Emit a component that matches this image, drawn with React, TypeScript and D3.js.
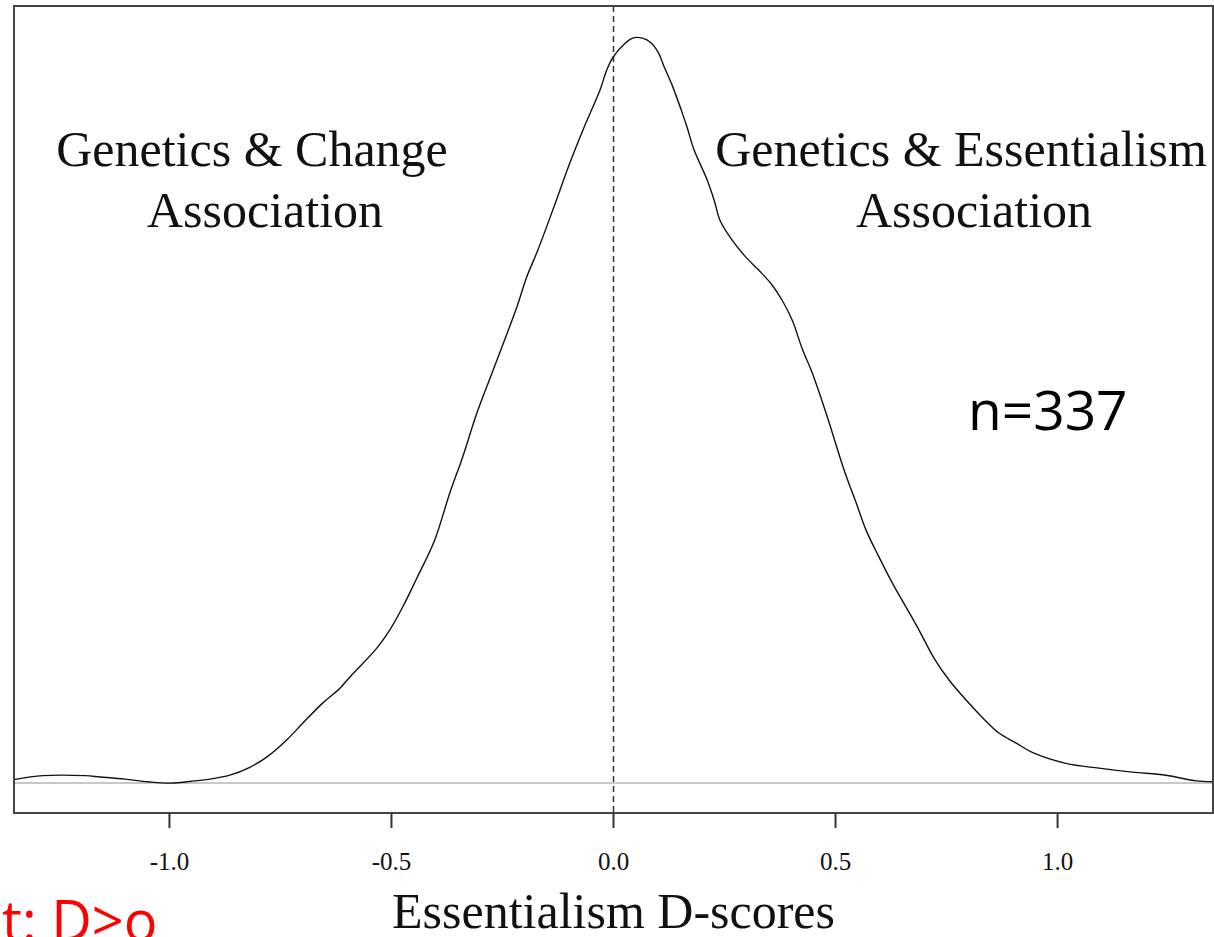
import React, { useRef, useEffect } from 'react';
import * as d3 from 'd3';

// density estimate of D-scores
const scoreX = [
  -1.350, -1.285, -1.190, -1.156, -1.100, -1.048, -0.999, -0.943, -0.909, -0.864,
  -0.819, -0.781, -0.736, -0.700, -0.655, -0.616, -0.594, -0.533, -0.504, -0.475,
  -0.443, -0.403, -0.369, -0.340, -0.308, -0.274, -0.218, -0.196, -0.171, -0.133,
  -0.099, -0.065, -0.031, -0.016, -0.002, 0.025, 0.043, 0.065, 0.085, 0.101,
  0.114, 0.132, 0.153, 0.166, 0.182, 0.209, 0.227, 0.240, 0.268, 0.295,
  0.328, 0.355, 0.380, 0.403, 0.425, 0.448, 0.479, 0.520, 0.547, 0.569,
  0.598, 0.628, 0.659, 0.688, 0.722, 0.756, 0.794, 0.830, 0.868, 0.907,
  0.943, 1.019, 1.093, 1.168, 1.244, 1.312, 1.348
];
const densityY = [
  0.008, 0.017, 0.017, 0.014, 0.009, 0.003, 0.000, 0.005, 0.009, 0.018,
  0.036, 0.059, 0.098, 0.136, 0.182, 0.216, 0.241, 0.307, 0.348, 0.400,
  0.466, 0.552, 0.659, 0.741, 0.841, 0.932, 1.082, 1.150, 1.211, 1.314,
  1.409, 1.495, 1.575, 1.620, 1.650, 1.682, 1.695, 1.695, 1.684, 1.662,
  1.630, 1.588, 1.530, 1.491, 1.439, 1.377, 1.325, 1.280, 1.234, 1.200,
  1.166, 1.136, 1.098, 1.052, 0.988, 0.932, 0.841, 0.710, 0.636, 0.575,
  0.514, 0.455, 0.400, 0.348, 0.284, 0.234, 0.189, 0.150, 0.114, 0.091,
  0.070, 0.045, 0.034, 0.025, 0.018, 0.005, 0.003
];
const tickValues = [-1.0, -0.5, 0.0, 0.5, 1.0];
const xDomain = [-1.35, 1.35];
const yMax = 1.70;

const App = () => {
  const ref = useRef<SVGSVGElement>(null);

  useEffect(() => {
    const svg = d3.select(ref.current);
    svg.selectAll('*').remove();

    const left = 14, right = 1213, top = 6, bottom = 813;
    const serif = '"Liberation Serif", "Times New Roman", serif';

    const x = d3.scaleLinear().domain(xDomain).range([left, right]);
    const y = d3.scaleLinear().domain([-0.04 * yMax, 1.04 * yMax]).range([bottom, top]);

    const pts = scoreX.map((v, i) => [v, densityY[i]] as [number, number]);

    // zero line
    svg.append('line')
      .attr('x1', left).attr('x2', right)
      .attr('y1', y(0)).attr('y2', y(0))
      .attr('stroke', '#c8c8c8').attr('stroke-width', 2);

    // dashed line at D = 0
    svg.append('line')
      .attr('x1', x(0)).attr('x2', x(0))
      .attr('y1', top).attr('y2', bottom)
      .attr('stroke', '#333').attr('stroke-width', 1.5)
      .attr('stroke-dasharray', '6,4');

    const line = d3.line<[number, number]>()
      .x(d => x(d[0]))
      .y(d => y(d[1]))
      .curve(d3.curveCatmullRom.alpha(0.5));

    svg.append('path')
      .datum(pts)
      .attr('d', line)
      .attr('fill', 'none')
      .attr('stroke', '#111')
      .attr('stroke-width', 1.4);

    // box
    svg.append('rect')
      .attr('x', left).attr('y', top)
      .attr('width', right - left).attr('height', bottom - top)
      .attr('fill', 'none')
      .attr('stroke', '#444').attr('stroke-width', 2);

    // x axis
    const fmt = (d: number) => d3.format('.1f')(d).replace('\u2212', '-');
    const axis = svg.append('g').attr('transform', `translate(0,${bottom})`);
    axis.selectAll('line.tick')
      .data(tickValues)
      .enter().append('line')
      .attr('class', 'tick')
      .attr('x1', d => x(d)).attr('x2', d => x(d))
      .attr('y1', 0).attr('y2', 15)
      .attr('stroke', '#333').attr('stroke-width', 2);
    axis.selectAll('text')
      .data(tickValues)
      .enter().append('text')
      .attr('x', d => x(d))
      .attr('y', 57)
      .attr('text-anchor', 'middle')
      .attr('font-family', serif)
      .attr('font-size', 25)
      .attr('fill', '#111')
      .text(d => fmt(d));

    svg.append('text')
      .attr('x', x(0))
      .attr('y', 928)
      .attr('text-anchor', 'middle')
      .attr('font-family', serif)
      .attr('font-size', 50)
      .attr('fill', '#111')
      .text('Essentialism D-scores');

    const labels = [
      { t: 'Genetics & Change', cx: 252, by: 166 },
      { t: 'Association', cx: 265, by: 227 },
      { t: 'Genetics & Essentialism', cx: 961, by: 166 },
      { t: 'Association', cx: 974, by: 227 }
    ];
    svg.selectAll('text.lab')
      .data(labels)
      .enter().append('text')
      .attr('class', 'lab')
      .attr('x', d => d.cx)
      .attr('y', d => d.by)
      .attr('text-anchor', 'middle')
      .attr('font-family', serif)
      .attr('font-size', 50)
      .attr('fill', '#111')
      .text(d => d.t);

    svg.append('text')
      .attr('x', 968)
      .attr('y', 430)
      .attr('font-family', '"Open Sans", "Noto Sans", sans-serif')
      .attr('font-size', 55)
      .attr('fill', '#000')
      .text('n=337');

    svg.append('text')
      .attr('x', 2)
      .attr('y', 941)
      .attr('font-family', '"Open Sans", "Noto Sans", sans-serif')
      .attr('font-size', 56)
      .attr('fill', '#ff0000')
      .text('t: D>o');
  }, []);

  return (
    <svg ref={ref} width={1214} height={937}
      style={{ position: 'absolute', left: 0, top: 0, background: 'white' }} />
  );
};

export default App;
